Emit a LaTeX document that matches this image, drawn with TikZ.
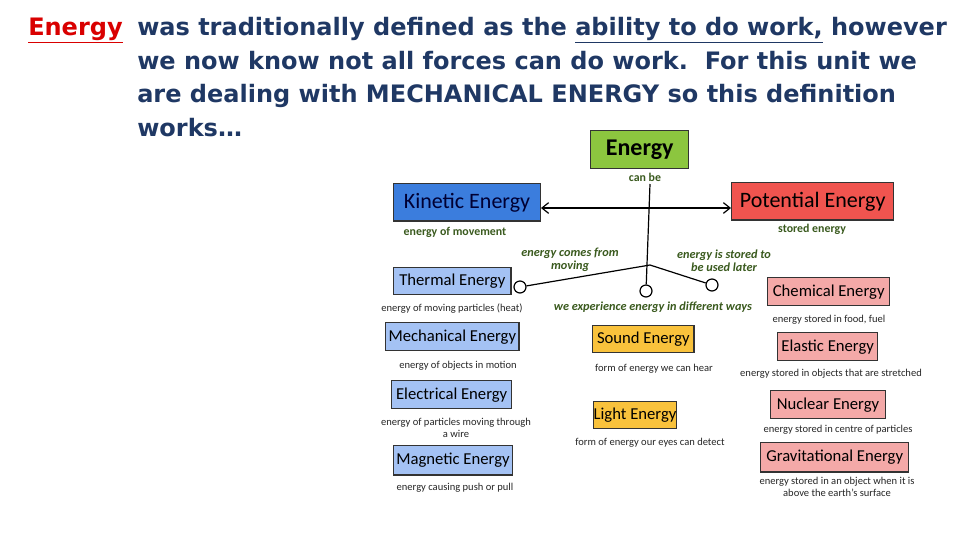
\documentclass[tikz,border=0pt]{standalone}
\usepackage{fontspec}
\setmainfont{Carlito}
\newfontfamily\hdrfont{DejaVu Sans}
\usetikzlibrary{arrows.meta}
\definecolor{hdr}{HTML}{1F3864}
\definecolor{egreen}{HTML}{8CC63F}
\definecolor{kblue}{HTML}{3B7DDD}
\definecolor{pred}{HTML}{F0544F}
\definecolor{lblue}{HTML}{A4C2F4}
\definecolor{lpink}{HTML}{F4A9A8}
\definecolor{syel}{HTML}{F9C23C}
\definecolor{dgreen}{HTML}{3A5A1E}
\tikzset{
 bx/.style={draw=black!80,line width=1pt,inner sep=0pt,anchor=north west,font=\fontsize{12.5}{14}\selectfont},
 sm/.style={font=\fontsize{7.9}{8.6}\selectfont,align=center,text=black!85},
 gl/.style={font=\bfseries\fontsize{8.9}{9.4}\selectfont,align=center,text=dgreen},
 gli/.style={gl,font=\bfseries\itshape\fontsize{9.2}{9.6}\selectfont},
 hd/.style={anchor=base west,inner sep=0pt,text=hdr,font=\hdrfont\bfseries\fontsize{18}{22}\selectfont},
 ring/.style={circle,draw,line width=0.9pt,fill=white,minimum size=9pt,inner sep=0pt},
 ln/.style={line width=0.9pt}
}
\begin{document}
\begin{tikzpicture}[x=0.75pt,y=-0.75pt]
\useasboundingbox (0,0) rectangle (960,540);
\fill[white] (0,0) rectangle (960,540);
% header
\node[hd,text=red!85!black] (hE) at (28,35) {\underline{Energy}};
\node[hd] (h1) at (137,35) {was traditionally defined as the \underline{ability to do work,} however};
\node[hd] (h2) at (137,69) {we now know not all forces can do work.\ \ For this unit we};
\node[hd] (h3) at (137,102) {are dealing with MECHANICAL ENERGY so this definition};
\node[hd] (h4) at (137,136) {works\dots};
% boxes
\node[bx,fill=egreen,minimum width=73.5pt,minimum height=28.5pt,font=\bfseries\fontsize{18}{20}\selectfont] (en) at (590,130) {Energy};
\node[bx,fill=kblue,minimum width=110pt,minimum height=28pt,font=\fontsize{16.5}{18}\selectfont,text=black!80!blue] (ke) at (393,183) {Kinetic Energy};
\node[bx,fill=pred,minimum width=121.5pt,minimum height=28pt,font=\fontsize{16.5}{18}\selectfont] (pe) at (731,182) {Potential Energy};
\node[bx,fill=lblue,minimum width=88pt,minimum height=20pt] (th) at (393,267) {Thermal Energy};
\node[bx,fill=lblue,minimum width=100pt,minimum height=21pt] (me) at (385,322) {Mechanical Energy};
\node[bx,fill=lblue,minimum width=90pt,minimum height=21pt] (el) at (391,380) {Electrical Energy};
\node[bx,fill=lblue,minimum width=89pt,minimum height=22pt] (ma) at (393,445) {Magnetic Energy};
\node[bx,fill=lpink,minimum width=91.5pt,minimum height=21pt] (ch) at (767,277) {Chemical Energy};
\node[bx,fill=lpink,minimum width=75pt,minimum height=21pt] (ea) at (777,332) {Elastic Energy};
\node[bx,fill=lpink,minimum width=86pt,minimum height=21pt] (nu) at (770,390) {Nuclear Energy};
\node[bx,fill=lpink,minimum width=111pt,minimum height=22pt] (gr) at (760,442) {Gravitational Energy};
\node[bx,fill=syel,minimum width=76pt,minimum height=20pt] (so) at (592,325) {Sound Energy};
\node[bx,fill=syel,minimum width=52pt,minimum height=20pt] (li) at (593,401) {Light Energy};
% labels
\node[gl] (canbe) at (645,177) {can be};
\node[gl] (lke) at (455,232) {energy of movement};
\node[gl] (lpe) at (812,229) {stored energy};
\node[gli] (lcf) at (570,260) {energy comes from\\moving};
\node[gli] (lis) at (724,261) {energy is stored to\\be used later};
\node[gli] (lwe) at (653,307) {we experience energy in different ways};
\node[sm] (l1) at (452,309) {energy of moving particles (heat)};
\node[sm] (l2) at (829,320) {energy stored in food, fuel};
\node[sm] (l3) at (458,366) {energy of objects in motion};
\node[sm] (l4) at (654,369) {form of energy we can hear};
\node[sm] (l5) at (831,374) {energy stored in objects that are stretched};
\node[sm] (l6) at (456,428) {energy of particles moving through\\a wire};
\node[sm] (l7) at (650,443) {form of energy our eyes can detect};
\node[sm] (l8) at (838,430) {energy stored in centre of particles};
\node[sm] (l9) at (455,488) {energy causing push or pull};
\node[sm] (l10) at (837,487) {energy stored in an object when it is\\above the earth's surface};
% connectors
\coordinate (top) at (650,184);
\coordinate (fork) at (650,265);
\node[ring] (rc) at (646,291) {};
\node[ring] (rl) at (520,287) {};
\node[ring] (rr) at (712,285) {};
\draw[ln] (top) -- (rc);
\draw[ln] (fork) -- (rl);
\draw[ln] (fork) -- (rr);
\draw[ln,{Straight Barb[length=5pt,width=8pt]}-{Straight Barb[length=5pt,width=8pt]}] (ke.east |- 0,208) -- (pe.west |- 0,208);
\end{tikzpicture}
\end{document}
